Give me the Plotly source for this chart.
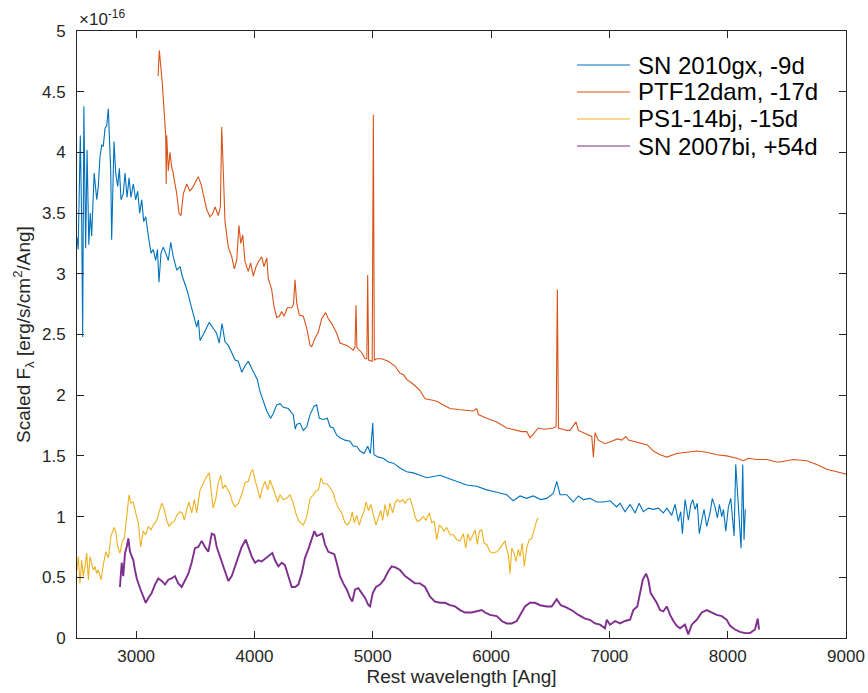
import plotly.graph_objects as go

# ---------------- data ----------------
gx_wave = [2500, 2510, 2528, 2540, 2548, 2558, 2573, 2585, 2600, 2612, 2624, 2645, 2667, 2680, 2694,
           2709, 2722, 2737, 2751, 2765, 2776, 2785, 2793, 2805, 2813, 2827, 2844, 2858, 2872, 2891,
           2906, 2923, 2940, 2956, 2976, 2996, 3013, 3030, 3047, 3064, 3081, 3103, 3126, 3145, 3165,
           3180, 3193, 3210, 3229, 3250, 3272, 3292, 3314, 3343, 3371, 3390, 3413, 3435, 3455, 3483,
           3512, 3526, 3540, 3568, 3596, 3618, 3652, 3680, 3702, 3726, 3751, 3779, 3808, 3836, 3863,
           3892, 3920, 3948, 3977, 4005, 4024, 4047, 4075, 4104, 4137, 4159, 4188, 4216, 4244, 4286,
           4310, 4328, 4345, 4357, 4385, 4413, 4442, 4470, 4504, 4526, 4548, 4582, 4616, 4639, 4667,
           4695, 4723, 4765, 4808, 4836, 4864, 4892, 4926, 4957, 4980, 5000, 5010, 5047, 5089, 5131,
           5174, 5230, 5287, 5343, 5399, 5456, 5512, 5568, 5625, 5710, 5794, 5879, 5963, 6048, 6132,
           6188, 6245, 6300, 6357, 6420, 6470, 6526, 6555, 6583, 6640, 6667, 6695, 6738, 6780, 6836,
           6893, 6949, 7006, 7062, 7090, 7132, 7175, 7217, 7251, 7287, 7329, 7372, 7414, 7456, 7485,
           7527, 7555, 7583, 7603, 7617, 7640, 7668, 7688, 7705, 7725, 7743, 7760, 7781, 7800, 7823,
           7851, 7870, 7893, 7913, 7930, 7950, 7964, 7984, 8006, 8026, 8043, 8054, 8068, 8082, 8096,
           8105, 8113, 8127, 8138, 8149]
gx_flux = [3.30, 3.20, 4.14, 3.40, 2.48, 4.38, 3.21, 4.02, 3.24, 3.50, 3.31, 3.83, 3.61, 3.72, 3.96,
           4.06, 4.05, 4.20, 4.22, 4.36, 4.07, 3.85, 3.28, 3.70, 4.09, 3.83, 3.72, 3.87, 3.61, 3.66,
           3.83, 3.63, 3.79, 3.63, 3.74, 3.61, 3.68, 3.50, 3.61, 3.43, 3.47, 3.31, 3.17, 3.20, 3.11,
           3.20, 2.93, 3.17, 3.22, 3.17, 3.11, 3.26, 3.14, 3.03, 3.06, 2.98, 2.92, 2.85, 2.77, 2.67,
           2.56, 2.62, 2.45, 2.50, 2.55, 2.60, 2.55, 2.51, 2.43, 2.59, 2.44, 2.41, 2.35, 2.29, 2.28,
           2.19, 2.24, 2.28, 2.22, 2.17, 2.13, 2.03, 1.95, 1.87, 1.81, 1.85, 1.92, 1.93, 1.90, 1.89,
           1.86, 1.84, 1.72, 1.76, 1.77, 1.71, 1.74, 1.84, 1.91, 1.92, 1.81, 1.80, 1.81, 1.74, 1.73,
           1.67, 1.65, 1.63, 1.62, 1.58, 1.58, 1.54, 1.52, 1.58, 1.52, 1.77, 1.51, 1.49, 1.48, 1.45,
           1.44, 1.40, 1.37, 1.36, 1.34, 1.32, 1.33, 1.34, 1.32, 1.29, 1.26, 1.25, 1.22, 1.20, 1.18,
           1.13, 1.17, 1.15, 1.17, 1.14, 1.15, 1.19, 1.29, 1.18, 1.18, 1.15, 1.12, 1.17, 1.14, 1.15,
           1.12, 1.12, 1.13, 1.08, 1.11, 1.04, 1.10, 1.03, 1.11, 1.04, 1.07, 1.06, 1.07, 1.03, 1.07,
           1.01, 1.10, 0.96, 1.04, 0.86, 1.14, 0.97, 1.10, 1.14, 1.06, 1.11, 0.86, 0.97, 1.06, 0.92,
           1.03, 1.15, 1.08, 0.99, 1.10, 1.00, 1.06, 0.88, 1.08, 1.15, 0.92, 0.84, 1.43, 1.22, 1.03,
           0.86, 0.74, 1.43, 0.81, 1.06]

dam_wave = [3185, 3196, 3221, 3238, 3250, 3254, 3258, 3272, 3286, 3300, 3311, 3328, 3343, 3362, 3379,
            3399, 3427, 3455, 3483, 3503, 3525, 3548, 3568, 3596, 3624, 3645, 3667, 3694, 3712, 3723,
            3737, 3751, 3779, 3808, 3830, 3850, 3869, 3884, 3901, 3920, 3948, 3968, 3990, 4010, 4033,
            4061, 4081, 4104, 4117, 4146, 4165, 4188, 4210, 4230, 4250, 4278, 4315, 4330, 4343, 4357,
            4379, 4413, 4442, 4470, 4484, 4512, 4540, 4568, 4602, 4624, 4653, 4695, 4723, 4780, 4836,
            4850, 4858, 4866, 4907, 4935, 4950, 4957, 4965, 4995, 5005, 5013, 5033, 5076, 5131, 5188,
            5230, 5258, 5287, 5343, 5399, 5442, 5498, 5541, 5597, 5653, 5738, 5850, 5879, 5892, 5963,
            6048, 6132, 6202, 6259, 6301, 6329, 6357, 6399, 6450, 6526, 6550, 6560, 6570, 6640, 6667,
            6710, 6718, 6737, 6780, 6851, 6865, 6879, 6907, 6963, 7020, 7067, 7105, 7139, 7161, 7232,
            7321, 7372, 7429, 7485, 7569, 7654, 7738, 7823, 7907, 7992, 8076, 8132, 8175, 8245, 8330,
            8414, 8442, 8555, 8668, 8753, 8837, 8922, 8964, 9000]
dam_flux = [4.63, 4.84, 4.57, 4.27, 4.14, 3.74, 4.14, 3.85, 4.00, 3.88, 3.84, 3.74, 3.66, 3.50, 3.48,
            3.66, 3.74, 3.68, 3.72, 3.76, 3.80, 3.74, 3.66, 3.53, 3.47, 3.49, 3.55, 3.48, 3.55, 4.21,
            3.83, 3.43, 3.22, 3.14, 3.04, 3.11, 3.40, 3.25, 3.32, 3.10, 3.02, 3.09, 2.98, 3.05, 3.10,
            3.14, 3.06, 3.13, 2.96, 2.87, 2.73, 2.64, 2.65, 2.69, 2.65, 2.72, 2.72, 2.75, 2.95, 2.76,
            2.66, 2.65, 2.55, 2.41, 2.40, 2.47, 2.52, 2.63, 2.68, 2.63, 2.59, 2.51, 2.43, 2.41, 2.37,
            2.40, 2.74, 2.39, 2.35, 2.30, 2.30, 2.99, 2.29, 2.28, 4.31, 2.29, 2.30, 2.30, 2.28, 2.24,
            2.18, 2.17, 2.13, 2.09, 2.04, 1.97, 1.96, 1.95, 1.92, 1.89, 1.88, 1.87, 1.89, 1.84, 1.81,
            1.78, 1.73, 1.71, 1.70, 1.70, 1.65, 1.68, 1.73, 1.72, 1.73, 1.74, 2.87, 1.73, 1.71, 1.71,
            1.77, 1.78, 1.71, 1.69, 1.66, 1.49, 1.69, 1.63, 1.60, 1.62, 1.64, 1.63, 1.66, 1.63, 1.61,
            1.59, 1.54, 1.51, 1.49, 1.52, 1.53, 1.54, 1.53, 1.51, 1.50, 1.48, 1.46, 1.48, 1.47, 1.47,
            1.45, 1.45, 1.47, 1.46, 1.43, 1.39, 1.37, 1.36, 1.35]

bj_wave = [2500, 2511, 2525, 2540, 2553, 2568, 2582, 2596, 2610, 2624, 2638, 2652, 2667, 2680, 2703,
           2722, 2743, 2765, 2787, 2813, 2827, 2844, 2863, 2883, 2900, 2920, 2940, 2956, 2976, 2996,
           3018, 3038, 3060, 3081, 3103, 3126, 3145, 3174, 3193, 3216, 3238, 3258, 3278, 3300, 3322,
           3343, 3371, 3390, 3407, 3427, 3447, 3470, 3492, 3512, 3540, 3568, 3596, 3618, 3633, 3650,
           3672, 3694, 3715, 3732, 3751, 3774, 3793, 3813, 3836, 3863, 3892, 3920, 3948, 3968, 3985,
           4005, 4027, 4047, 4066, 4089, 4112, 4131, 4151, 4174, 4197, 4216, 4244, 4273, 4300, 4328,
           4349, 4377, 4413, 4442, 4470, 4498, 4518, 4540, 4563, 4582, 4611, 4639, 4667, 4681, 4709,
           4738, 4765, 4785, 4808, 4827, 4844, 4864, 4887, 4907, 4926, 4943, 4963, 4983, 5005, 5027,
           5047, 5067, 5084, 5104, 5126, 5146, 5168, 5188, 5208, 5230, 5253, 5273, 5292, 5315, 5338,
           5357, 5377, 5399, 5427, 5450, 5478, 5498, 5520, 5541, 5563, 5583, 5602, 5625, 5653, 5681,
           5710, 5738, 5766, 5786, 5803, 5822, 5842, 5865, 5884, 5901, 5921, 5941, 5963, 5991, 6019,
           6048, 6076, 6099, 6118, 6132, 6146, 6160, 6175, 6194, 6211, 6230, 6245, 6264, 6281, 6301,
           6323, 6344, 6363, 6386, 6399]
bj_flux = [0.56, 0.67, 0.45, 0.64, 0.51, 0.59, 0.70, 0.48, 0.67, 0.62, 0.56, 0.59, 0.53, 0.56, 0.48,
           0.60, 0.71, 0.66, 0.84, 0.91, 0.88, 0.75, 0.70, 0.80, 0.82, 1.00, 1.18, 1.11, 1.12, 1.03,
           0.95, 0.75, 0.88, 0.85, 0.92, 0.89, 0.93, 0.97, 1.03, 1.11, 1.06, 0.97, 0.92, 0.95, 0.96,
           1.01, 1.04, 1.03, 0.97, 1.06, 1.12, 1.03, 1.14, 1.03, 1.22, 1.28, 1.33, 1.36, 1.22, 1.07,
           1.14, 1.28, 1.34, 1.23, 1.26, 1.22, 1.19, 1.12, 1.08, 1.11, 1.18, 1.28, 1.29, 1.36, 1.39,
           1.30, 1.22, 1.15, 1.23, 1.29, 1.22, 1.30, 1.25, 1.19, 1.12, 1.18, 1.14, 1.15, 1.18, 1.11,
           1.03, 0.96, 0.93, 1.00, 1.15, 1.18, 1.21, 1.22, 1.32, 1.27, 1.27, 1.24, 1.19, 1.14, 1.07,
           1.03, 0.95, 0.93, 0.96, 1.04, 0.95, 1.01, 0.93, 1.00, 1.04, 1.12, 1.05, 1.10, 1.01, 0.93,
           0.99, 1.05, 0.97, 1.10, 1.00, 1.11, 1.03, 1.11, 1.14, 1.12, 1.14, 1.11, 1.14, 1.15, 1.08,
           1.00, 0.96, 0.97, 1.00, 0.97, 1.03, 0.95, 0.96, 0.81, 0.93, 0.91, 0.88, 0.91, 0.85, 0.85,
           0.81, 0.80, 0.86, 0.74, 0.86, 0.80, 0.84, 0.89, 0.77, 0.88, 0.89, 0.78, 0.77, 0.71, 0.70,
           0.71, 0.74, 0.77, 0.80, 0.73, 0.69, 0.53, 0.74, 0.70, 0.63, 0.73, 0.67, 0.78, 0.59, 0.74,
           0.81, 0.82, 0.89, 0.97, 0.99]

bi_wave = [2863, 2878, 2891, 2906, 2920, 2934, 2948, 2962, 2976, 2990, 3005, 3033, 3060, 3081, 3103,
           3131, 3159, 3187, 3216, 3244, 3272, 3300, 3328, 3356, 3385, 3413, 3441, 3469, 3497, 3525,
           3554, 3582, 3610, 3639, 3661, 3681, 3709, 3737, 3779, 3808, 3836, 3863, 3892, 3926, 3948,
           3977, 4005, 4033, 4061, 4089, 4117, 4151, 4174, 4202, 4230, 4258, 4286, 4315, 4343, 4371,
           4399, 4427, 4455, 4484, 4506, 4526, 4554, 4573, 4596, 4624, 4653, 4675, 4695, 4723, 4751,
           4780, 4808, 4827, 4850, 4878, 4907, 4935, 4963, 4977, 5000, 5027, 5061, 5095, 5131, 5160,
           5196, 5230, 5273, 5315, 5357, 5399, 5442, 5484, 5526, 5568, 5611, 5653, 5695, 5738, 5780,
           5837, 5893, 5921, 5949, 5991, 6048, 6090, 6132, 6175, 6217, 6245, 6287, 6329, 6372, 6414,
           6470, 6512, 6555, 6589, 6640, 6695, 6738, 6794, 6836, 6879, 6921, 6963, 6978, 7005, 7048,
           7090, 7132, 7175, 7202, 7236, 7259, 7282, 7310, 7329, 7349, 7371, 7400, 7428, 7456, 7485,
           7513, 7541, 7569, 7597, 7639, 7667, 7696, 7738, 7781, 7823, 7865, 7907, 7950, 7992, 8020,
           8062, 8104, 8147, 8189, 8231, 8254, 8265]
bi_flux = [0.42, 0.62, 0.51, 0.70, 0.75, 0.82, 0.71, 0.67, 0.64, 0.56, 0.49, 0.41, 0.34, 0.29, 0.33,
           0.37, 0.44, 0.49, 0.47, 0.44, 0.48, 0.49, 0.51, 0.45, 0.42, 0.48, 0.53, 0.62, 0.74, 0.75,
           0.80, 0.75, 0.71, 0.86, 0.85, 0.75, 0.67, 0.58, 0.47, 0.51, 0.59, 0.67, 0.75, 0.81, 0.75,
           0.67, 0.62, 0.64, 0.63, 0.65, 0.67, 0.70, 0.64, 0.59, 0.62, 0.60, 0.51, 0.42, 0.42, 0.44,
           0.53, 0.66, 0.73, 0.81, 0.88, 0.84, 0.85, 0.86, 0.77, 0.71, 0.70, 0.69, 0.62, 0.51, 0.45,
           0.40, 0.33, 0.30, 0.40, 0.41, 0.37, 0.33, 0.27, 0.26, 0.37, 0.42, 0.44, 0.48, 0.55, 0.59,
           0.58, 0.56, 0.51, 0.48, 0.45, 0.45, 0.42, 0.34, 0.30, 0.29, 0.29, 0.27, 0.26, 0.23, 0.21,
           0.21, 0.22, 0.23, 0.21, 0.19, 0.18, 0.14, 0.12, 0.12, 0.14, 0.19, 0.26, 0.29, 0.29, 0.27,
           0.26, 0.26, 0.32, 0.27, 0.25, 0.22, 0.19, 0.16, 0.15, 0.12, 0.11, 0.08, 0.15, 0.11, 0.14,
           0.12, 0.14, 0.15, 0.23, 0.26, 0.37, 0.48, 0.53, 0.48, 0.37, 0.34, 0.29, 0.23, 0.22, 0.26,
           0.19, 0.14, 0.10, 0.08, 0.11, 0.03, 0.11, 0.15, 0.21, 0.23, 0.21, 0.19, 0.18, 0.15, 0.10,
           0.07, 0.05, 0.04, 0.04, 0.07, 0.16, 0.07]

series_names = ["SN 2010gx, -9d", "PTF12dam, -17d", "PS1-14bj, -15d", "SN 2007bi, +54d"]
x_ticks = [3000, 4000, 5000, 6000, 7000, 8000, 9000]
y_ticks = [0, 0.5, 1, 1.5, 2, 2.5, 3, 3.5, 4, 4.5, 5]
y_tick_labels = ["0", "0.5", "1", "1.5", "2", "2.5", "3", "3.5", "4", "4.5", "5"]

# ---------------- figure ----------------
colors = ["#0072BD", "#D95319", "#EDB120", "#7E2F8E"]
widths = [1.1, 1.1, 1.1, 1.9]
waves = [gx_wave, dam_wave, bj_wave, bi_wave]
fluxes = [gx_flux, dam_flux, bj_flux, bi_flux]

FONT = "Liberation Sans, Arial, Helvetica, sans-serif"
AX = "#262626"

W, H = 868, 693
ML, MR, MT, MB = 77, 22, 31, 55
PW, PH = W - ML - MR, H - MT - MB

fig = go.Figure()
for w, f, n, c, lw in zip(waves, fluxes, series_names, colors, widths):
    fig.add_trace(go.Scatter(x=w, y=f, mode="lines", name=n,
                             line=dict(color=c, width=lw), showlegend=False))

# legend (MATLAB-style, boxless) drawn in paper coordinates
leg_x0, leg_x1, leg_tx = 577, 630, 636       # pixel positions of sample line / text
leg_rows = [65, 92, 119, 146]
for n, c, yy in zip(series_names, colors, leg_rows):
    py = (H - MB - yy) / PH
    fig.add_shape(type="line", xref="paper", yref="paper",
                  x0=(leg_x0 - ML) / PW, x1=(leg_x1 - ML) / PW, y0=py, y1=py,
                  line=dict(color=c, width=1.1))
    fig.add_annotation(text=n, xref="paper", yref="paper", x=(leg_tx - ML) / PW, y=py,
                       xanchor="left", yanchor="middle", showarrow=False,
                       font=dict(family=FONT, size=24, color="black"))

fig.update_layout(
    width=W, height=H,
    margin=dict(l=ML, r=MR, t=MT, b=MB, autoexpand=False),
    paper_bgcolor="white", plot_bgcolor="white",
    font=dict(family=FONT, color=AX, size=17),
    showlegend=False,
)
fig.update_xaxes(range=[2500, 9000], tickvals=x_ticks, ticktext=[str(t) for t in x_ticks],
                 automargin=False,
                 showgrid=False, zeroline=False, showline=True, linecolor=AX, linewidth=1,
                 mirror="ticks", ticks="inside", ticklen=7, tickcolor=AX, tickwidth=1,
                 tickfont=dict(size=17, color=AX), ticklabelstandoff=3,
                 title=dict(text="Rest wavelength [Ang]", font=dict(size=19, color=AX), standoff=4))
fig.update_yaxes(range=[0, 5], tickvals=y_ticks, ticktext=y_tick_labels,
                 automargin=False,
                 showgrid=False, zeroline=False, showline=True, linecolor=AX, linewidth=1,
                 mirror="ticks", ticks="inside", ticklen=7, tickcolor=AX, tickwidth=1,
                 tickfont=dict(size=17, color=AX), ticklabelstandoff=7,
                 title=dict(text="Scaled F<sub>λ</sub> [erg/s/cm<sup>2</sup>/Ang]",
                            font=dict(size=19, color=AX), standoff=6))
fig.add_annotation(text="×10<sup>-16</sup>", xref="paper", yref="paper", x=0, y=1,
                   xanchor="left", yanchor="bottom", yshift=0, showarrow=False,
                   font=dict(family=FONT, size=17, color=AX))

fig.write_html("out.html")
